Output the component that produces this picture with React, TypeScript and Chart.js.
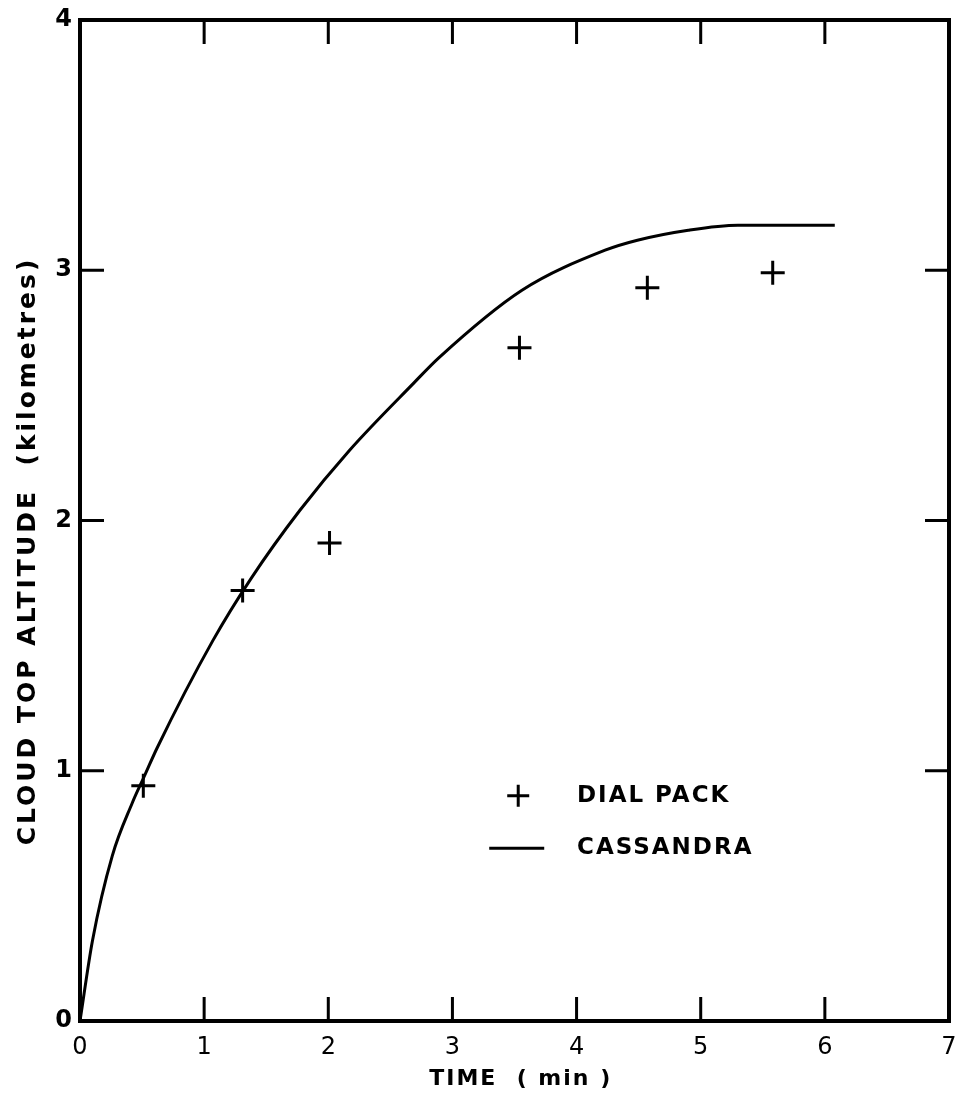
import React, { useEffect, useRef } from "react";
import { Chart, registerables } from "chart.js";

Chart.register(...registerables);

const dialPackTime = [0.51, 1.31, 2.01, 3.54, 4.57, 5.58];
const dialPackAlt = [0.94, 1.72, 1.91, 2.69, 2.93, 2.99];

const cassandraTime = [0, 0.1, 0.26, 0.42, 0.52, 0.62, 1.07, 1.38, 1.77, 2.17, 2.69, 2.89, 3.56, 4.23, 4.49, 4.9, 5.3, 6.08];
const cassandraAlt = [0, 0.32, 0.66, 0.87, 0.98, 1.09, 1.52, 1.77, 2.04, 2.28, 2.55, 2.65, 2.92, 3.08, 3.12, 3.16, 3.18, 3.18];

const xTicks = [0, 1, 2, 3, 4, 5, 6, 7];
const yTicks = [0, 1, 2, 3, 4];

const xTitle = "TIME  ( min )";
const yTitle = "CLOUD TOP ALTITUDE  (kilometres)";
const legendLabels = ["DIAL PACK", "CASSANDRA"];

const FONT = "'DejaVu Sans', sans-serif";

const framePlugin = {
  id: "frameAndExtras",
  afterDraw(chart: any) {
    const { ctx, chartArea: a, scales } = chart;
    const xs = scales.x;
    const ys = scales.y;
    ctx.save();
    ctx.strokeStyle = "#000";
    ctx.lineWidth = 4;
    ctx.strokeRect(a.left, a.top, a.right - a.left, a.bottom - a.top);
    const tl = 24;
    ctx.lineWidth = 3;
    ctx.beginPath();
    for (const v of xTicks.slice(1, -1)) {
      const px = xs.getPixelForValue(v);
      ctx.moveTo(px, a.bottom);
      ctx.lineTo(px, a.bottom - tl);
      ctx.moveTo(px, a.top);
      ctx.lineTo(px, a.top + tl);
    }
    for (const v of yTicks.slice(1, -1)) {
      const py = ys.getPixelForValue(v);
      ctx.moveTo(a.left, py);
      ctx.lineTo(a.left + tl, py);
      ctx.moveTo(a.right, py);
      ctx.lineTo(a.right - tl, py);
    }
    ctx.stroke();

    // axis titles
    ctx.fillStyle = "#000";
    ctx.textAlign = "center";
    ctx.textBaseline = "middle";
    ctx.font = `bold 22px ${FONT}`;
    ctx.letterSpacing = "2px";
    ctx.fillText(xTitle, xs.getPixelForValue(3.55), 1079);
    ctx.save();
    ctx.font = `bold 25px ${FONT}`;
    ctx.letterSpacing = "3px";
    ctx.translate(28, 551);
    ctx.rotate(-Math.PI / 2);
    ctx.fillText(yTitle, 0, 0);
    ctx.restore();

    // legend
    const lx = xs.getPixelForValue(3.53);
    const ly1 = ys.getPixelForValue(0.9);
    const ly2 = ys.getPixelForValue(0.69);
    ctx.lineWidth = 3;
    ctx.beginPath();
    ctx.moveTo(lx - 11, ly1);
    ctx.lineTo(lx + 11, ly1);
    ctx.moveTo(lx, ly1 - 11);
    ctx.lineTo(lx, ly1 + 11);
    ctx.moveTo(lx - 29, ly2);
    ctx.lineTo(lx + 26, ly2);
    ctx.stroke();
    ctx.font = `bold 23px ${FONT}`;
    ctx.letterSpacing = "2px";
    ctx.textAlign = "left";
    ctx.fillText(legendLabels[0], 577, ly1);
    ctx.fillText(legendLabels[1], 577, ly2);
    ctx.restore();
  },
};

export default function App() {
  const ref = useRef<HTMLCanvasElement | null>(null);
  useEffect(() => {
    if (!ref.current) return;
    const chart = new Chart(ref.current, {
      type: "scatter",
      data: {
        datasets: [
          {
            label: legendLabels[1],
            data: cassandraTime.map((t, i) => ({ x: t, y: cassandraAlt[i] })),
            showLine: true,
            borderColor: "#000",
            borderWidth: 3,
            pointRadius: 0,
            cubicInterpolationMode: "monotone",
            fill: false,
          } as any,
          {
            label: legendLabels[0],
            data: dialPackTime.map((t, i) => ({ x: t, y: dialPackAlt[i] })),
            pointStyle: "cross",
            pointRadius: 12,
            borderColor: "#000",
            backgroundColor: "#000",
            pointBorderWidth: 3,
            showLine: false,
          } as any,
        ],
      },
      options: {
        animation: false,
        responsive: false,
        maintainAspectRatio: false,
        layout: { padding: { left: 0, top: 20, right: 9, bottom: 0 } },
        plugins: { legend: { display: false }, tooltip: { enabled: false } },
        scales: {
          x: {
            type: "linear",
            min: 0,
            max: 7,
            afterFit: (s: any) => {
              s.height = 80;
              s.paddingLeft = 0;
              s.paddingRight = 0;
            },
            afterBuildTicks: (s: any) => {
              s.ticks = xTicks.map((v) => ({ value: v }));
            },
            grid: { display: false, drawTicks: false },
            border: { display: false },
            ticks: {
              color: "#000",
              padding: 12,
              font: { family: FONT, size: 24 },
            },
          },
          y: {
            type: "linear",
            min: 0,
            max: 4,
            afterFit: (s: any) => {
              s.width = 80;
              s.paddingTop = 0;
              s.paddingBottom = 0;
            },
            afterBuildTicks: (s: any) => {
              s.ticks = yTicks.map((v) => ({ value: v }));
            },
            grid: { display: false, drawTicks: false },
            border: { display: false },
            ticks: {
              color: "#000",
              padding: 8,
              font: { family: FONT, size: 24, weight: "bold" },
            },
          },
        },
      },
      plugins: [framePlugin],
    });
    return () => chart.destroy();
  }, []);
  return (
    <canvas
      ref={ref}
      width={964}
      height={1101}
      style={{ position: "absolute", left: 0, top: 0, width: 964, height: 1101, background: "#fff" }}
    />
  );
}
